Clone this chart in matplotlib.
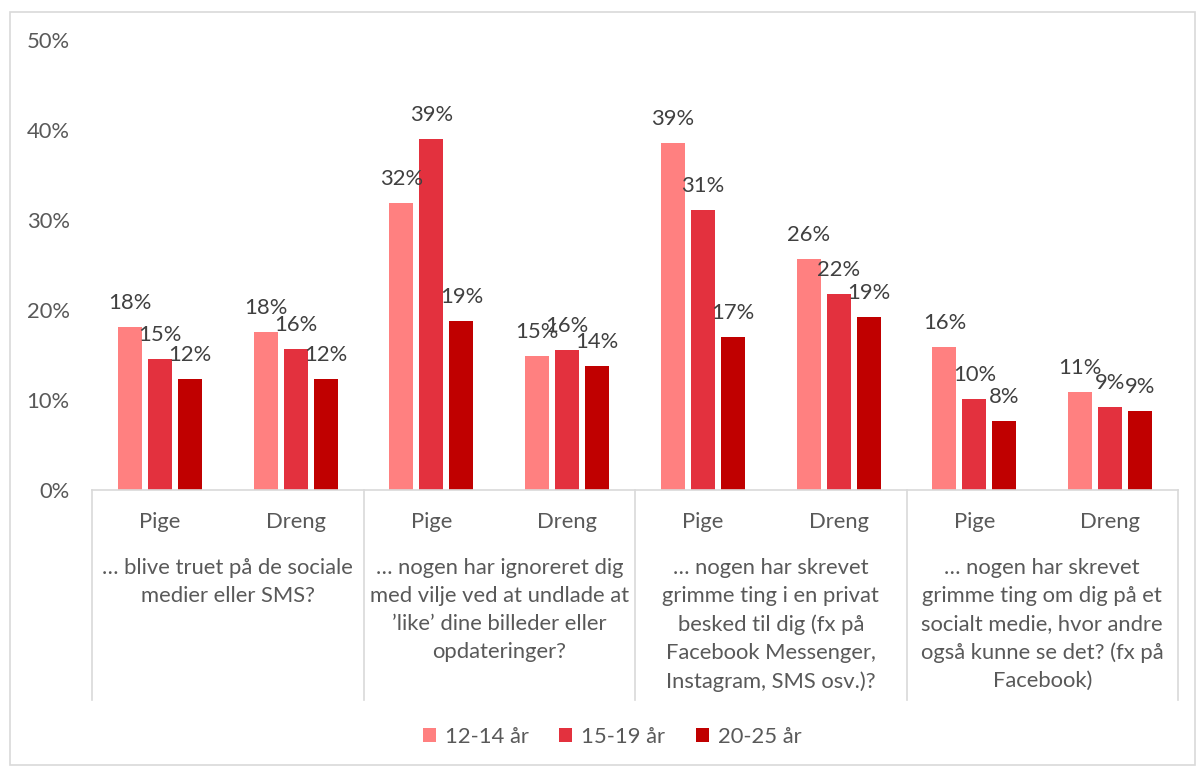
import matplotlib.pyplot as plt
import matplotlib.transforms as mtransforms
from matplotlib.patches import Rectangle
import numpy as np

plt.rcParams['font.family'] = ['Lato', 'DejaVu Sans']

# survey answers (share answering yes), by question, gender and age group
questions = [
    "… blive truet på de sociale\nmedier eller SMS?",
    "… nogen har ignoreret dig\nmed vilje ved at undlade at\n’like’ dine billeder eller\nopdateringer?",
    "… nogen har skrevet\ngrimme ting i en privat\nbesked til dig (fx på\nFacebook Messenger,\nInstagram, SMS osv.)?",
    "… nogen har skrevet\ngrimme ting om dig på et\nsocialt medie, hvor andre\nogså kunne se det? (fx på\nFacebook)",
]
genders = ["Pige", "Dreng"]
age_groups = ["12-14 år", "15-19 år", "20-25 år"]

age_12_14 = [18.1, 17.6, 31.9, 14.9, 38.6, 25.7, 15.9, 10.9]
age_15_19 = [14.6, 15.7, 39.0, 15.6, 31.1, 21.8, 10.1, 9.2]
age_20_25 = [12.3, 12.3, 18.8, 13.8, 17.0, 19.2, 7.7, 8.8]

series = [age_12_14, age_15_19, age_20_25]
colors = ["#FF8080", "#E3313E", "#C00000"]
text_col = "#595959"
line_col = "#D9D9D9"
fs = 15.8

fig = plt.figure(figsize=(12, 7.67), dpi=100)
ax = fig.add_axes([92 / 1200, 1 - 490 / 767, 1086 / 1200, 450 / 767])

x = np.arange(len(age_12_14))
offsets = [-0.221, 0.0, 0.221]
width = 0.177

for vals, off, col, name in zip(series, offsets, colors, age_groups):
    bars = ax.bar(x + off, vals, width, color=col, label=name)
    for b, v in zip(bars, vals):
        ax.annotate(f"{round(v):.0f}%", (b.get_x() + b.get_width() / 2, v),
                    xytext=(0, 13), textcoords="offset points",
                    ha="center", va="baseline", fontsize=fs, color="#404040")

ax.set_xlim(-0.5, len(x) - 0.5)
ax.set_ylim(0, 50)
ax.set_yticks(np.arange(0, 51, 10))
ax.set_yticklabels([f"{t}%" for t in range(0, 51, 10)])
ax.tick_params(axis="y", length=0, pad=16, labelsize=fs, labelcolor=text_col)
ax.set_xticks([])
for s in ["left", "top", "right"]:
    ax.spines[s].set_visible(False)
ax.spines["bottom"].set_color(line_col)
ax.spines["bottom"].set_linewidth(1.2)

# two-level category axis below the bars
trans = mtransforms.blended_transform_factory(ax.transData, ax.transAxes)
for i, g in enumerate(x):
    ax.text(g, -0.071, genders[i % 2], transform=trans, ha="center", va="center",
            fontsize=fs, color=text_col)
for k, q in enumerate(questions):
    ax.text(2 * k + 0.5, -0.152, q, transform=trans, ha="center", va="top",
            fontsize=fs, color=text_col, linespacing=1.5)
for b in np.arange(-0.5, len(x), 2):
    ax.plot([b, b], [0, -0.467], transform=trans, color=line_col, lw=1.2,
            clip_on=False)

leg = fig.legend(loc="center", bbox_to_anchor=(612 / 1200, 1 - 737 / 767), ncol=3,
                 frameon=False, fontsize=fs, handlelength=0.6, handleheight=0.6,
                 columnspacing=1.4, handletextpad=0.4)
for t in leg.get_texts():
    t.set_color(text_col)

fig.patches.append(Rectangle((10 / 1200, 1 - 765 / 767), 1185 / 1200, 753 / 767,
                             transform=fig.transFigure, fill=False,
                             edgecolor=line_col, lw=1.2))

fig.savefig("out.png", dpi=100)
